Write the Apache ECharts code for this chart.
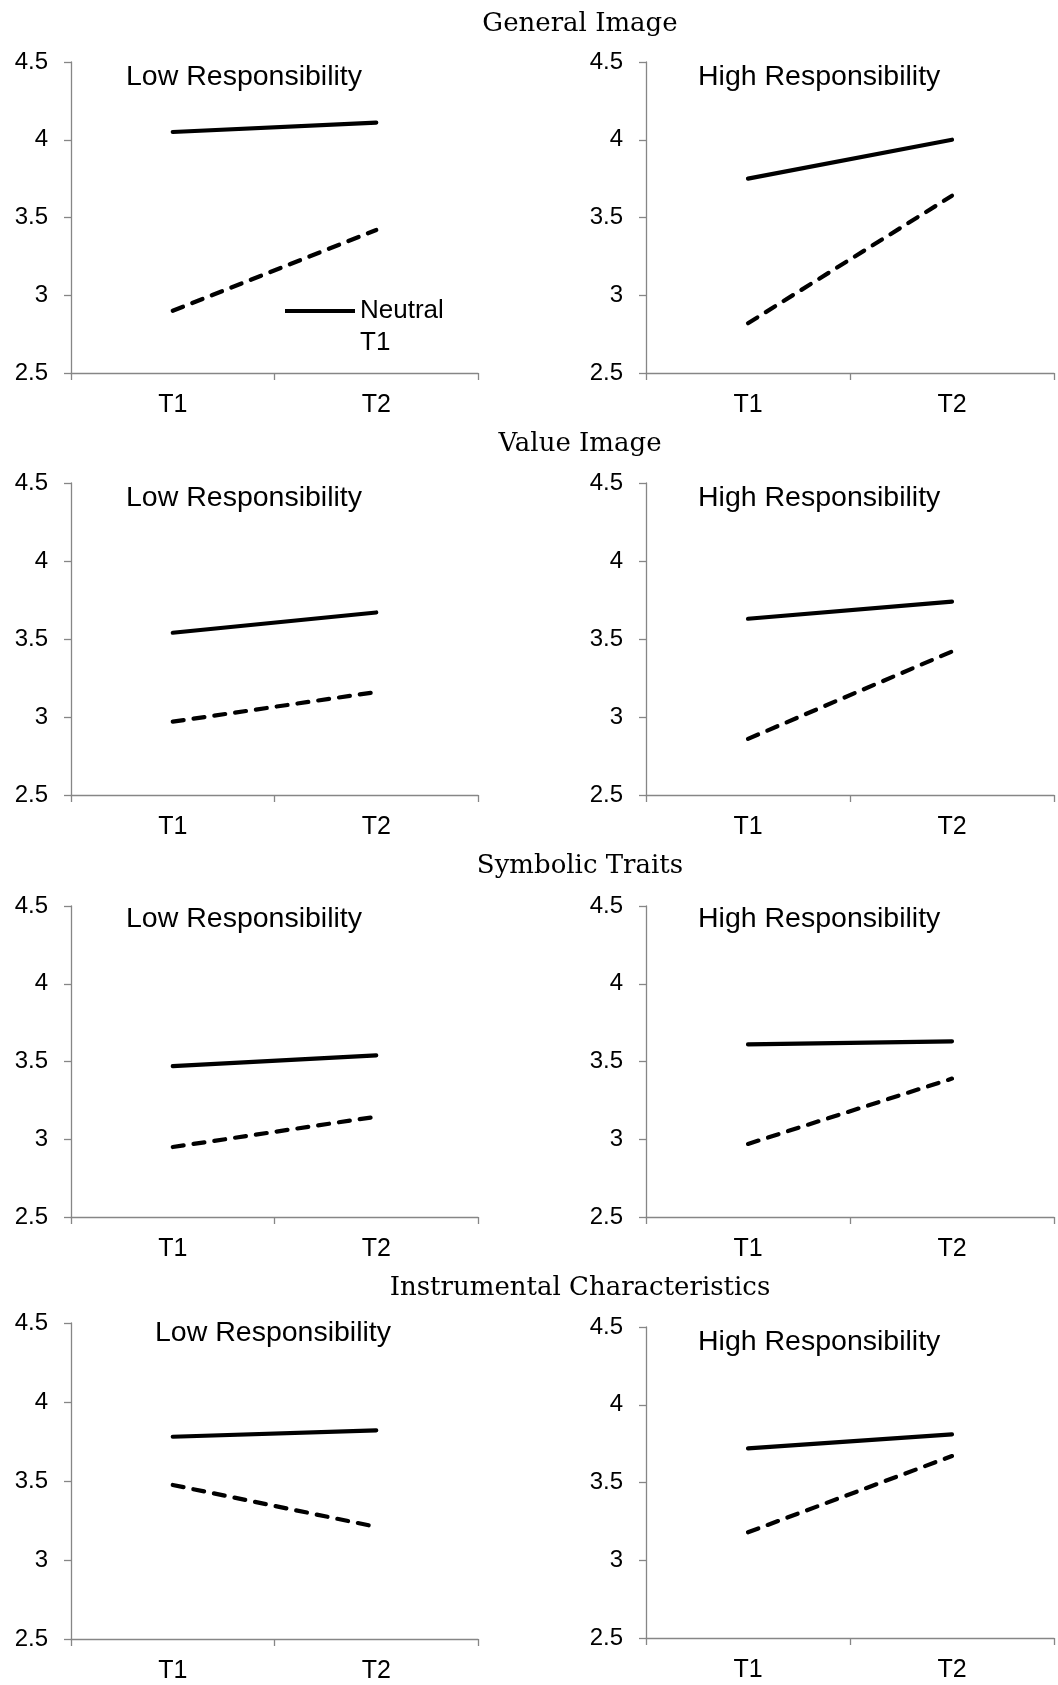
<!DOCTYPE html>
<html>
<head>
<meta charset="utf-8">
<script src="https://cdn.jsdelivr.net/npm/echarts@6/dist/echarts.min.js"></script>
<style>
  html, body { margin: 0; padding: 0; background: #fff; }
  #main { width: 1058px; height: 1685px; }
</style>
</head>
<body>
<div id="main"></div>
<script>
// data
var categories = ['T1', 'T2'];
var sections = ['General Image', 'Value Image', 'Symbolic Traits', 'Instrumental Characteristics'];
var panelNames = ['Low Responsibility', 'High Responsibility'];
var yTicks = [2.5, 3, 3.5, 4, 4.5];

var lowNeutral  = [[4.05, 4.11], [3.54, 3.67], [3.47, 3.54], [3.78, 3.82]];
var lowDashed   = [[2.90, 3.42], [2.97, 3.16], [2.95, 3.145], [3.475, 3.21]];
var highNeutral = [[3.75, 4.00], [3.63, 3.74], [3.61, 3.63], [3.72, 3.81]];
var highDashed  = [[2.82, 3.64], [2.86, 3.42], [2.97, 3.39], [3.18, 3.67]];

var myChart = echarts.init(document.getElementById('main'));

// layout of the 4x2 panels
var gridTops = [[62, 62], [483, 483], [906, 906], [1323, 1327]];
var gridBottoms = [[373, 373], [795, 795], [1217, 1217], [1639, 1638]];
var gridLefts = [71, 646];
var gridWidths = [407, 408];
var titleTops = [11, 431, 853, 1275];
var subTops = [[63, 63], [484, 484], [905, 905], [1319, 1328]];
var subLefts = [[126, 698], [126, 698], [126, 698], [155, 698]];

var axisGray = '#868686';
var grids = [], xAxes = [], yAxes = [], series = [], titles = [];

sections.forEach(function (sec, r) {
    titles.push({
        text: sec,
        left: 580,
        top: titleTops[r],
        textAlign: 'center',
        padding: 0,
        textStyle: { fontFamily: 'DejaVu Serif', fontWeight: 'normal', fontSize: 26, color: '#000' }
    });
    for (var c = 0; c < 2; c++) {
        var idx = grids.length;
        grids.push({
            left: gridLefts[c],
            top: gridTops[r][c],
            width: gridWidths[c],
            height: gridBottoms[r][c] - gridTops[r][c]
        });
        xAxes.push({
            type: 'category',
            gridIndex: idx,
            data: categories,
            boundaryGap: true,
            axisLine: { lineStyle: { color: axisGray, width: 1.3 } },
            axisTick: { show: true, length: 7, lineStyle: { color: axisGray, width: 1.3 } },
            axisLabel: { color: '#000', fontSize: 25, fontFamily: 'Liberation Sans', margin: 20 },
            splitLine: { show: false }
        });
        yAxes.push({
            type: 'value',
            gridIndex: idx,
            min: yTicks[0],
            max: yTicks[yTicks.length - 1],
            interval: 0.5,
            axisLine: { show: true, lineStyle: { color: axisGray, width: 1.3 } },
            axisTick: { show: true, length: 7, lineStyle: { color: axisGray, width: 1.3 } },
            axisLabel: { color: '#000', fontSize: 24, fontFamily: 'Liberation Sans', margin: 23 },
            splitLine: { show: false }
        });
        titles.push({
            text: panelNames[c],
            left: subLefts[r][c],
            top: subTops[r][c],
            padding: 0,
            textStyle: { fontFamily: 'Liberation Sans', fontWeight: 'normal', fontSize: 28.5, color: '#000' }
        });
        var neutral = c === 0 ? lowNeutral[r] : highNeutral[r];
        var dashed = c === 0 ? lowDashed[r] : highDashed[r];
        series.push({
            name: 'Neutral',
            type: 'line',
            xAxisIndex: idx,
            yAxisIndex: idx,
            data: neutral,
            showSymbol: false,
            silent: true,
            animation: false,
            lineStyle: { color: '#000', width: 4.2, cap: 'round' },
            itemStyle: { color: '#000' }
        });
        series.push({
            name: 'Crisis',
            type: 'line',
            xAxisIndex: idx,
            yAxisIndex: idx,
            data: dashed,
            showSymbol: false,
            silent: true,
            animation: false,
            lineStyle: { color: '#000', width: 4.2, type: [11, 10], cap: 'round' },
            itemStyle: { color: '#000' }
        });
    }
});

option = {
    backgroundColor: '#fff',
    animation: false,
    title: titles,
    grid: grids,
    xAxis: xAxes,
    yAxis: yAxes,
    legend: {
        data: [{ name: 'Neutral', icon: 'rect' }],
        left: 285,
        top: 298,
        padding: 0,
        itemWidth: 70,
        itemHeight: 4,
        selectedMode: false,
        textStyle: { fontFamily: 'Liberation Sans', fontSize: 26, color: '#000' }
    },
    graphic: [{
        type: 'text',
        left: 360,
        top: 330,
        style: { text: 'T1', fontFamily: 'Liberation Sans', fontSize: 26, fill: '#000' }
    }],
    series: series
};

myChart.setOption(option);
</script>
</body>
</html>
